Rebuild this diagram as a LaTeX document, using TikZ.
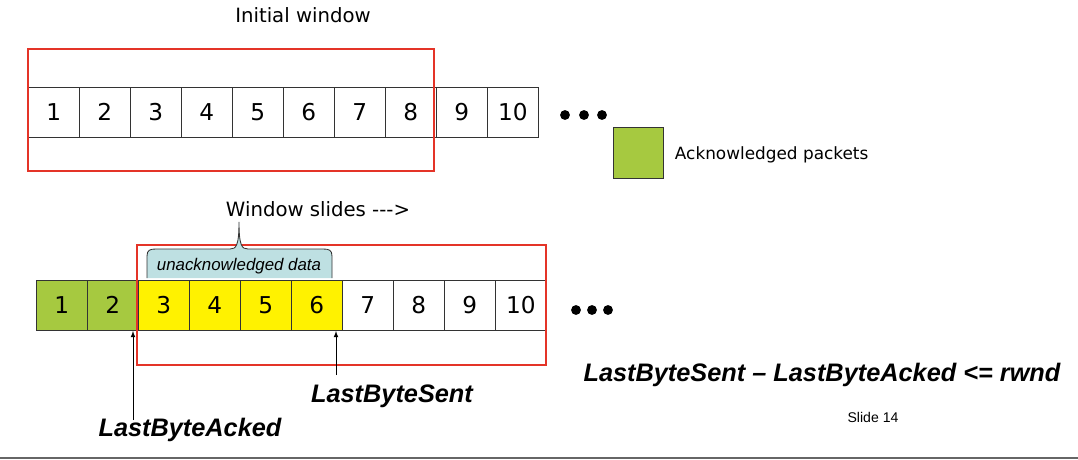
\documentclass[tikz,border=0pt]{standalone}
\usepackage{fontspec}
\setmainfont{DejaVu Sans}
\newfontfamily\arialf{Liberation Sans}
\definecolor{ackgreen}{RGB}{166,201,64}
\definecolor{calloutblue}{RGB}{190,224,226}
\definecolor{winred}{RGB}{228,52,40}
\begin{document}
\begin{tikzpicture}[x=0.025cm,y=-0.025cm,
  cell/.style={draw=black!80,line width=0.5pt,minimum width=51*0.025cm,minimum height=50*0.025cm,inner sep=0pt,anchor=north west,font=\fontsize{16.5}{16.5}\selectfont},
  win/.style={draw=winred,line width=1.6pt},
  dot/.style={fill=black,circle,inner sep=0pt,minimum size=7pt},
  lbl/.style={font=\arialf\bfseries\itshape\fontsize{18}{18}\selectfont}]
\useasboundingbox (0,0) rectangle (1078,460);
\node (t) at (303,15) {\fontsize{14}{14}\selectfont Initial window};
\foreach \i in {1,...,10} \node[cell] (a\i) at ({28+51*(\i-1)},87) {\i};
\draw[win] (28,49) rectangle (434,171);
\foreach \x [count=\k] in {565,584,602} \node[dot] (d\k) at (\x,115) {};
\node[draw=black!80,fill=ackgreen,minimum width=50*0.025cm,minimum height=51*0.025cm,inner sep=0pt] (leg) at (638,153) {};
\node[anchor=west,font=\fontsize{12}{12}\selectfont] (legt) at (670,155) {Acknowledged packets};
% bottom
\foreach \i/\col in {1/ackgreen,2/ackgreen,3/yellow,4/yellow,5/yellow,6/yellow,7/white,8/white,9/white,10/white}
  \node[cell,fill=\col] (b\i) at ({36+51*(\i-1)},280) {\i};
\draw[win] (137,245) rectangle (546,365);
\draw[fill=calloutblue,draw=black!80,line width=0.6pt]
  (147,278) -- (147,256) .. controls (147,250) and (150,249) .. (156,249)
  -- (230,249) .. controls (236,249) and (239,246) .. (239,222)
  .. controls (239,246) and (242,249) .. (248,249)
  -- (323,249) .. controls (329,249) and (332,250) .. (332,256) -- (332,278);
\node[font=\arialf\fontsize{12}{12}\selectfont\itshape] (ud) at (239,266) {unacknowledged data};
\node (ws) at (318,209) {\fontsize{14}{14}\selectfont Window slides {-}{-}{-}>};
\foreach \x [count=\k] in {576,592,608} \node[dot] (e\k) at (\x,310) {};
\coordinate (p1) at (133,420); \coordinate (q1) at (133,331);
\coordinate (p2) at (336,375); \coordinate (q2) at (336,331);
\draw[-latex,line width=0.5pt] (p1) -- (q1);
\draw[-latex,line width=0.5pt] (p2) -- (q2);
\node[lbl] (lba) at (190,430) {LastByteAcked};
\node[lbl] (lbs) at (392,396) {LastByteSent};
\node[lbl] (f) at (822,375) {LastByteSent – LastByteAcked <= rwnd};
\node[font=\arialf\fontsize{10}{10}\selectfont] (s) at (873,417) {Slide 14};
\draw[black!60,line width=0.8pt] (0,458) -- (1078,458);
\end{tikzpicture}
\end{document}
